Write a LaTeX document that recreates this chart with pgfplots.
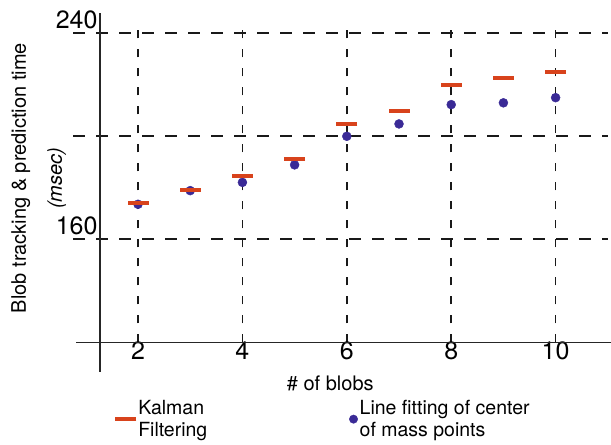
\documentclass[border=0pt]{standalone}
\usepackage{fontspec}
\setmainfont{TeX Gyre Heros}
\usepackage{pgfplots}
\pgfplotsset{compat=1.18}
\definecolor{kalman}{RGB}{216,67,28}
\definecolor{linefit}{RGB}{58,42,150}

\begin{document}
\begin{tikzpicture}
\begin{axis}[
  x=52.2pt, y=2.575pt,
  xmin=0.755, xmax=11.0, ymin=120, ymax=245,
  axis line style={draw=none},
  clip=false,
  xtick={2,4,6,8,10},
  ytick={160,200,240}, yticklabels={160,,240},
  major tick length=0pt,
  grid=major,
  x grid style={black!90, line width=1.6pt, dash pattern=on 8pt off 11pt},
  y grid style={black!90, line width=1.6pt, dash pattern=on 11.5pt off 11.5pt},
  /pgf/number format/assume math mode=true,
  ticklabel style={font=\fontsize{25}{30}\selectfont},
  xticklabel style={yshift=4pt},
  yticklabel style={anchor=east, xshift=28pt, yshift=13pt},
  xlabel={\# of blobs},
  xlabel style={font=\fontsize{20}{24}\selectfont, at={(axis description cs:0.481,-0.127)}, anchor=center},
  ylabel={Blob tracking \& prediction time\\[12pt]\textit{(msec)}},
  ylabel style={align=center, font=\fontsize{20}{24}\selectfont, at={(axis description cs:-0.064,0.51)}, anchor=center},
  legend columns=2,
  legend cell align=left,
  legend style={draw=none, fill=none, font=\fontsize{19.5}{22}\selectfont,
    cells={align=left},
    /tikz/every even column/.append style={column sep=140pt},
    at={(axis description cs:0.073,-0.167)}, anchor=north west},
]
% legend entries first, so the red dashes can be drawn on top of the dots
\addlegendimage{only marks, mark=-, mark size=10.5pt, mark options={line width=4pt, draw=kalman}}
\addlegendentry{Kalman\\Filtering}
\addlegendimage{only marks, mark=*, mark size=4.2pt, mark options={draw=linefit, fill=linefit}}
\addlegendentry{Line fitting of center\\of mass points}

\addplot[forget plot, only marks, mark=*, mark size=4.5pt, mark options={draw=linefit, fill=linefit}]
  coordinates {(2,173.6)(3,178.9)(4,182.1)(5,188.9)(6,200.0)(7,204.8)(8,212.3)(9,213.0)(10,215.0)};
\addplot[forget plot, only marks, mark=-, mark size=10.5pt, mark options={line width=4pt, draw=kalman}]
  coordinates {(2,174.0)(3,179.1)(4,184.6)(5,191.3)(6,204.9)(7,209.8)(8,219.9)(9,222.5)(10,224.9)};

% axis lines, crossing past each other
\draw[line width=1.2pt, black!85] (axis cs:0.812,120) -- (axis cs:11.1,120);
\draw[line width=1.2pt, black!85] (axis cs:1.272,108.5) -- (axis cs:1.272,247.9);

\coordinate (bl) at (axis cs:-0.644,80.5);
\coordinate (tr) at (axis cs:11.061,252.93);
\end{axis}
\pgfresetboundingbox
\path[use as bounding box] (bl) rectangle (tr);
\end{tikzpicture}
\end{document}
